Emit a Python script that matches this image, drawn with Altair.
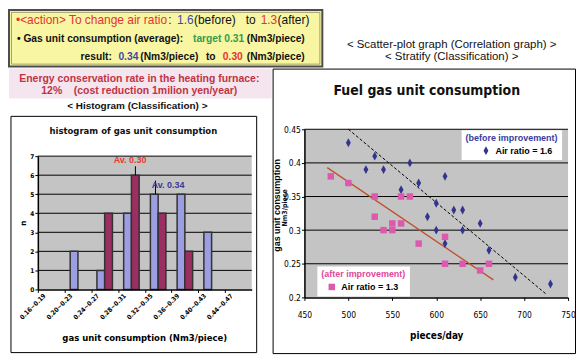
import altair as alt
import pandas as pd

# ---------------- values ----------------
hist_bins = ["0.16~0.19", "0.20~0.23", "0.24~0.27", "0.28~0.31",
             "0.32~0.35", "0.36~0.39", "0.40~0.43", "0.44~0.47"]
hist_before = [0, 2, 1, 4, 5, 5, 3, 0]
hist_after = [0, 0, 4, 6, 4, 2, 0, 0]
hist_count_ticks = [0, 1, 2, 3, 4, 5, 6, 7]

avg_labels = ["Av. 0.30", "Av. 0.34"]

before_pieces = [500, 530, 520, 540, 570, 560, 580, 600, 590, 600,
                 610, 610, 620, 630, 630, 650, 660, 690, 730]
before_gas = [0.43, 0.41, 0.39, 0.39, 0.40, 0.36, 0.37, 0.34, 0.32, 0.30,
              0.38, 0.28, 0.33, 0.33, 0.30, 0.31, 0.27, 0.23, 0.22]
after_pieces = [480, 500, 530, 530, 540, 550, 550, 560, 560, 570,
                580, 610, 610, 630, 650, 660]
after_gas = [0.38, 0.37, 0.35, 0.32, 0.30, 0.31, 0.30, 0.35, 0.31, 0.35,
             0.28, 0.29, 0.25, 0.25, 0.24, 0.25]

before_trend_pieces = [500, 725]
before_trend_gas = [0.45, 0.205]
after_trend_pieces = [476, 665]
after_trend_gas = [0.393, 0.226]

pieces_ticks = [450, 500, 550, 600, 650, 700, 750]
gas_ticks = [0.2, 0.25, 0.3, 0.35, 0.4, 0.45]

air_ratio_labels = ["Air ratio = 1.6", "Air ratio = 1.3"]
group_titles = ["(before improvement)", "(after improvement)"]

action_texts = ["\u2022<action> To change air ratio", ":", "1.6", "(before)", "to", "1.3", "(after)"]
gas_texts = ["\u2022 Gas unit consumption (average):", "target 0.31", "(Nm3/piece)"]
result_texts = ["result:", "0.34", "(Nm3/piece)", "to", "0.30", "(Nm3/piece)"]
energy_texts = ["Energy conservation rate in the heating furnace:",
                "12%\u00a0\u00a0\u00a0\u00a0(cost reduction 1milion yen/year)"]
right_titles = ["< Scatter-plot graph (Correlation graph) >", "< Stratify (Classification) >"]
hist_caption = "< Histogram (Classification) >"
hist_title = "histogram of gas unit consumption"
hist_x_title = "gas unit consumption (Nm3/piece)"
scatter_title = "Fuel gas unit consumption"
scatter_y_title = "gas unit consumption"
scatter_y_unit = "Nm3/piece"
scatter_x_title = "pieces/day"

# ---------------- styles / layout ----------------
ARIAL = "Liberation Sans, Arial, sans-serif"
NARROW = "Liberation Sans Narrow, DejaVu Sans Condensed, sans-serif"
BLACK = "#111111"
RED_TXT = "#e3342f"
BLUE_TXT = "#3b4aa6"
GREEN_TXT = "#2f9d4e"
YELLOW_FILL = "#f8f6a3"
PINK_FILL = "#f4e5ef"
PINK_TXT = "#bf3444"
GRAY = "#c4c4c4"
HIST_BEFORE = "#9d9de2"
HIST_AFTER = "#9c2f62"
AV_COLORS = ["#e4392f", "#393996"]
PT_BEFORE = "#34348f"
PT_AFTER = "#dc59ad"
LEG_TITLE_COLORS = ["#3a3aa0", "#e0479b"]
TREND_AFTER = "#c0502c"
DIAMOND = "M0,-1L0.55,0L0,1L-0.55,0Z"
NOVIEW = alt.ViewBackground(fill="transparent", stroke="transparent")

DUMMY = pd.DataFrame({"k": [0]})


def label(text, x, y, color=BLACK, size=10, bold=False, font=ARIAL, align="left", angle=0):
    kw = dict(text=text, color=color, fontSize=size, font=font, align=align,
              baseline="middle", fontWeight="bold" if bold else "normal")
    if angle:
        kw["angle"] = angle
    return alt.Chart(DUMMY).mark_text(**kw).encode(x=alt.value(x), y=alt.value(y))


def box(x0, x1, y0, y1, fill, stroke="transparent", sw=0):
    return alt.Chart(DUMMY).mark_rect(fill=fill, stroke=stroke, strokeWidth=sw).encode(
        x=alt.value(x0), x2=alt.value(x1), y=alt.value(y0), y2=alt.value(y1))


# ---------------- yellow action box ----------------
YW, YH = 315, 57
action_colors = [RED_TXT, BLACK, BLUE_TXT, BLACK, BLACK, RED_TXT, BLACK]
action_x = [7, 160, 169, 186, 238, 253, 270]
gas_colors = [BLACK, GREEN_TXT, BLACK]
gas_x = [8, 185, 239]
result_colors = [BLACK, BLUE_TXT, BLACK, BLACK, RED_TXT, BLACK]
result_x = [72, 110, 132, 198, 215, 239]

yl = [box(2.5, YW - 2.5, 2.5, YH - 2.5, "transparent", "#8f8d62", 0.8)]
for t, c, x in zip(action_texts, action_colors, action_x):
    yl.append(label(t, x, 10, color=c, size=12))
for t, c, x in zip(gas_texts, gas_colors, gas_x):
    yl.append(label(t, x, 29, color=c, size=10.3, bold=True))
for t, c, x in zip(result_texts, result_colors, result_x):
    yl.append(label(t, x, 47, color=c, size=10.3, bold=True))
yellow = alt.layer(*yl).properties(
    width=YW, height=YH,
    view=alt.ViewBackground(fill=YELLOW_FILL, stroke="#4d4d4d", strokeWidth=2))

titles = alt.layer(
    label(right_titles[0], 129, 35, size=11.5, align="center"),
    label(right_titles[1], 129, 47, size=11.5, align="center"),
).properties(width=253, height=YH, view=NOVIEW)

# ---------------- left column: pink box, caption, histogram ----------------
LW, LH = 264, 286
FT = 48                      # top of the histogram frame
HX = alt.Scale(domain=[-0.5, 7.5], range=[29, 244], nice=False, zero=False)
HY = alt.Scale(domain=[0, 7], range=[FT + 174, FT + 40], nice=False, zero=False)
step = (244 - 29) / 8.0

rows = []
for i, b in enumerate(hist_bins):
    rows.append({"i": i, "bin": b, "series": "before", "n": hist_before[i]})
    rows.append({"i": i, "bin": b, "series": "after", "n": hist_after[i]})
hist_df = pd.DataFrame(rows)

label_expr = "[" + ",".join("'%s'" % b for b in hist_bins) + "][datum.value]"

HX_AXIS = alt.Axis(
    values=list(range(len(hist_bins))), labelExpr=label_expr, orient="bottom",
    offset=(FT + 174) - LH, zindex=1, grid=False, domainColor="black", domainWidth=1.5,
    tickColor="black", tickSize=3, tickOffset=-step / 2, labelOffset=step / 2 - 7,
    labelAngle=315, labelAlign="right", labelBaseline="middle", labelPadding=2,
    labelFlush=False, labelOverlap=False, labelFont=NARROW, labelFontSize=6.5,
    labelFontWeight="bold", labelColor="black", title=hist_x_title, titleFont=NARROW,
    titleFontSize=9.5, titleFontWeight="bold", titleColor="black", titleX=136, titleY=48,
    titleBaseline="middle")
HY_AXIS = alt.Axis(
    values=hist_count_ticks, orient="left", offset=-29, zindex=1, grid=False,
    domainColor="black", domainWidth=1.5, tickColor="black", tickSize=3,
    labelPadding=1, labelFont=NARROW, labelFontSize=6.5, labelFontWeight="bold",
    labelColor="black", title="n", titleFont=NARROW, titleFontSize=8,
    titleFontWeight="bold", titleColor="black", titleX=-14, titleY=FT + 107,
    titleBaseline="middle")

h_bg = alt.Chart(DUMMY).mark_rect(color=GRAY).encode(
    x=alt.XDatum(-0.5, scale=HX, axis=HX_AXIS), x2=alt.X2Datum(7.5),
    y=alt.YDatum(0, scale=HY, axis=HY_AXIS), y2=alt.Y2Datum(7))

h_grid = alt.Chart(pd.DataFrame({"n": hist_count_ticks[1:]})).mark_rule(
    color="black", strokeWidth=1).encode(
    y=alt.Y("n:Q", scale=HY, axis=HY_AXIS),
    x=alt.XDatum(-0.5, scale=HX, axis=HX_AXIS), x2=alt.X2Datum(7.5))

h_bars = alt.Chart(hist_df).transform_filter("datum.n > 0").transform_calculate(
    x0="datum.i + (datum.series == 'before' ? -0.29 : 0)",
    x1="datum.i + (datum.series == 'before' ? 0 : 0.29)",
).mark_rect(stroke="#333333", strokeWidth=1.5).encode(
    x=alt.X("x0:Q", scale=HX, axis=HX_AXIS),
    x2="x1:Q",
    y=alt.Y("n:Q", scale=HY, axis=HY_AXIS),
    y2=alt.Y2Datum(0),
    color=alt.Color("series:N", scale=alt.Scale(domain=["before", "after"],
                                                 range=[HIST_BEFORE, HIST_AFTER]), legend=None),
)

av_df = pd.DataFrame({
    "label": avg_labels,
    "line_x": [3.15, 3.90], "line_y": [6, 5], "line_y2": [6.47, 5.71],
    "text_x": [2.95, 4.37], "text_y": [6.77, 5.46],
    "color": AV_COLORS,
})
h_av_rule = alt.Chart(av_df).mark_rule(color="black", strokeWidth=1).encode(
    x=alt.X("line_x:Q", scale=HX, axis=HX_AXIS),
    y=alt.Y("line_y:Q", scale=HY, axis=HY_AXIS), y2="line_y2:Q")
h_av_text = alt.Chart(av_df).mark_text(font=ARIAL, fontSize=9, fontWeight="bold").encode(
    x=alt.X("text_x:Q", scale=HX, axis=HX_AXIS),
    y=alt.Y("text_y:Q", scale=HY, axis=HY_AXIS),
    text="label:N", color=alt.Color("color:N", scale=None))

leftcol = alt.layer(
    box(0, LW, 0, 30, PINK_FILL),
    label(energy_texts[0], 131, 10, color=PINK_TXT, size=10.5, bold=True, align="center"),
    label(energy_texts[1], 131, 23, color=PINK_TXT, size=10.5, bold=True, align="center"),
    label(hist_caption, 129, 38, size=10, bold=True, align="center"),
    box(2, 249, FT, LH - 0.5, "white", "black", 1),
    h_bg, h_grid, h_bars, h_av_rule, h_av_text,
    label(hist_title, 125, FT + 15, size=9.5, bold=True, font=NARROW, align="center"),
).properties(width=LW, height=LH, view=NOVIEW)

# ---------------- scatter panel ----------------
SW, SH = 304, 286
SX = alt.Scale(domain=[450, 750], range=[32, 297], nice=False, zero=False)
SY = alt.Scale(domain=[0.2, 0.45], range=[230, 61], nice=False, zero=False)

SX_AXIS = alt.Axis(
    values=pieces_ticks, orient="bottom", offset=230 - SH, zindex=1, grid=False,
    domainColor="black", domainWidth=1.5, tickColor="black", tickSize=3,
    labelPadding=10, labelFlush=False, labelFont=NARROW, labelFontSize=8.5,
    labelColor="black", title=scatter_x_title, titleFont=NARROW, titleFontSize=10,
    titleFontWeight="bold", titleColor="black", titleY=38, titleBaseline="middle")
SY_AXIS = alt.Axis(
    values=gas_ticks, format="~g", orient="left", offset=-32, zindex=1, grid=False,
    domainColor="black", domainWidth=1.5, tickColor="black", tickSize=3,
    labelPadding=1, labelFlush=False, labelFont=NARROW, labelFontSize=8.5,
    labelColor="black", title=scatter_y_title, titleFont=ARIAL, titleFontSize=9,
    titleFontWeight="bold", titleColor="black", titleX=-28, titleY=137,
    titleBaseline="middle")

s_bg = alt.Chart(DUMMY).mark_rect(color=GRAY).encode(
    x=alt.XDatum(450, scale=SX, axis=SX_AXIS), x2=alt.X2Datum(750),
    y=alt.YDatum(0.2, scale=SY, axis=SY_AXIS), y2=alt.Y2Datum(0.45))

s_grid = alt.Chart(pd.DataFrame({"gas": gas_ticks[1:]})).mark_rule(
    color="black", strokeWidth=1).encode(
    y=alt.Y("gas:Q", scale=SY, axis=SY_AXIS),
    x=alt.XDatum(450, scale=SX, axis=SX_AXIS), x2=alt.X2Datum(750))

s_trend_before = alt.Chart(pd.DataFrame({"pieces": before_trend_pieces, "gas": before_trend_gas})).mark_line(
    color="black", strokeDash=[3, 2], strokeWidth=1).encode(
    x=alt.X("pieces:Q", scale=SX, axis=SX_AXIS), y=alt.Y("gas:Q", scale=SY, axis=SY_AXIS))
s_trend_after = alt.Chart(pd.DataFrame({"pieces": after_trend_pieces, "gas": after_trend_gas})).mark_line(
    color=TREND_AFTER, strokeWidth=1.3).encode(
    x=alt.X("pieces:Q", scale=SX, axis=SX_AXIS), y=alt.Y("gas:Q", scale=SY, axis=SY_AXIS))

before_df = pd.DataFrame({"pieces": before_pieces, "gas": before_gas, "ratio": air_ratio_labels[0]})
after_df = pd.DataFrame({"pieces": after_pieces, "gas": after_gas, "ratio": air_ratio_labels[1]})


def legend_for(k, x, y, sym, sym_size, sym_off):
    return alt.Legend(
        title=group_titles[k], orient="none", legendX=x, legendY=y, fillColor="white",
        padding=4, titleColor=LEG_TITLE_COLORS[k], titleFont=ARIAL, titleFontSize=9,
        titleFontWeight="bold", titlePadding=3, labelFont=ARIAL, labelFontSize=9,
        labelFontWeight="bold", labelColor="black", symbolType=sym, symbolSize=sym_size,
        symbolOffset=sym_off, labelOffset=5, symbolStrokeWidth=0)


s_before = alt.Chart(before_df).mark_point(shape=DIAMOND, filled=True, size=80, opacity=1).encode(
    x=alt.X("pieces:Q", scale=SX, axis=SX_AXIS),
    y=alt.Y("gas:Q", scale=SY, axis=SY_AXIS),
    color=alt.Color("ratio:N", scale=alt.Scale(domain=[air_ratio_labels[0]], range=[PT_BEFORE]),
                    legend=legend_for(0, 190, 62, DIAMOND, 80, 16)))
s_after = alt.Chart(after_df).mark_point(shape="square", filled=True, size=42, opacity=1).encode(
    x=alt.X("pieces:Q", scale=SX, axis=SX_AXIS),
    y=alt.Y("gas:Q", scale=SY, axis=SY_AXIS),
    color=alt.Color("ratio:N", scale=alt.Scale(domain=[air_ratio_labels[1]], range=[PT_AFTER]),
                    legend=legend_for(1, 45, 199, "square", 42, 6)))

s_title = label(scatter_title, 155, 23, size=14, bold=True, font=NARROW, align="center")
s_unit = label(scatter_y_unit, 12, 140, size=7, bold=True, font=NARROW, align="center", angle=270)

scatter = alt.layer(s_bg, s_grid, s_trend_before, s_trend_after, s_before, s_after,
                    s_title, s_unit).resolve_scale(color="independent").properties(
    width=SW, height=SH,
    view=alt.ViewBackground(fill="white", stroke="black", strokeWidth=1))

# ---------------- composition ----------------
row1 = alt.hconcat(yellow, titles, spacing=0)
row2 = alt.hconcat(leftcol, scatter, spacing=0)
chart = alt.vconcat(row1, row2, spacing=0, padding=0).configure_view(strokeWidth=0)

chart.save("out.html", embed_options={"renderer": "svg", "actions": False})
